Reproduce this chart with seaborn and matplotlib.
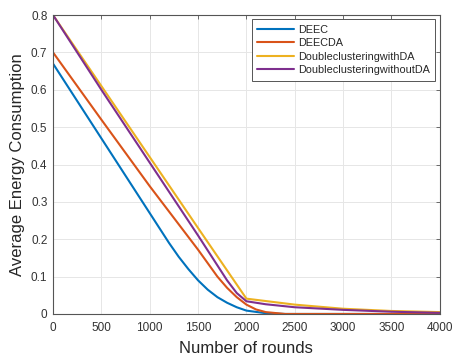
import numpy as np
import pandas as pd
import seaborn as sns
import matplotlib.pyplot as plt

# values
rounds_deec = [0, 500, 1000, 1200, 1300, 1400, 1500, 1600, 1700, 1800, 1900, 2000, 2200, 2400, 4000]
deec = [0.67, 0.47, 0.27, 0.19, 0.153, 0.12, 0.09, 0.065, 0.045, 0.03, 0.018, 0.009, 0.002, 0.0, 0.0]

rounds_deecda = [0, 500, 1000, 1500, 1700, 1800, 1900, 2000, 2100, 2200, 2400, 4000]
deecda = [0.70, 0.52, 0.342, 0.172, 0.10, 0.07, 0.045, 0.025, 0.012, 0.005, 0.0, 0.0]

rounds_dc = [0, 500, 1000, 1500, 2000, 2500, 3000, 3500, 4000]
dc_with_da = [0.80, 0.61, 0.42, 0.23, 0.041, 0.025, 0.014, 0.008, 0.005]

rounds_dcw = [0, 500, 1000, 1500, 1700, 1800, 1900, 2000, 2200, 2500, 3000, 3500, 4000]
dc_without_da = [0.80, 0.60, 0.405, 0.21, 0.13, 0.09, 0.056, 0.034, 0.026, 0.018, 0.011, 0.006, 0.003]

names = ["DEEC", "DEECDA", "DoubleclusteringwithDA", "DoubleclusteringwithoutDA"]
colors = ["#0072BD", "#D95319", "#EDB120", "#7E2F8E"]

sns.set_style("whitegrid")
plt.rcParams["font.family"] = ["Liberation Sans", "DejaVu Sans"]

fig = plt.figure(figsize=(4.61, 3.58), dpi=100)
ax = fig.add_axes([0.115, 0.123, 0.839, 0.835])

series = [(rounds_deec, deec), (rounds_deecda, deecda),
          (rounds_dc, dc_with_da), (rounds_dcw, dc_without_da)]
for (x, y), name, c in zip(series, names, colors):
    df = pd.DataFrame({"rounds": x, "energy": y})
    sns.lineplot(data=df, x="rounds", y="energy", color=c, lw=1.5, label=name, ax=ax)

ax.set_xlim(0, 4000)
ax.set_ylim(0, 0.8)
ax.set_xticks(np.arange(0, 4001, 500))
ax.set_yticks(np.arange(0, 0.81, 0.1))
ax.set_yticklabels(["0", "0.1", "0.2", "0.3", "0.4", "0.5", "0.6", "0.7", "0.8"])
ax.set_xlabel("Number of rounds", fontsize=12, color="#262626", labelpad=5)
ax.set_ylabel("Average Energy Consumption", fontsize=12, color="#262626", labelpad=4)

ax.grid(True, color="#e6e6e6", lw=0.7)
for s in ax.spines.values():
    s.set_color("#555555")
    s.set_linewidth(0.8)
ax.tick_params(axis="both", direction="in", length=3, width=0.6, color="#555555",
               labelsize=8.5, labelcolor="#333333", top=True, right=True)
ax.tick_params(axis="x", pad=6)
ax.tick_params(axis="y", pad=4)

leg = ax.legend(loc="upper right", fontsize=7.8, frameon=True, fancybox=False,
                handlelength=3.4, borderaxespad=0.4, labelspacing=0.32,
                handletextpad=0.4, borderpad=0.5)
leg.get_frame().set_edgecolor("#555555")
leg.get_frame().set_linewidth(0.7)
leg.get_frame().set_alpha(1)

fig.savefig("out.png", dpi=100)
